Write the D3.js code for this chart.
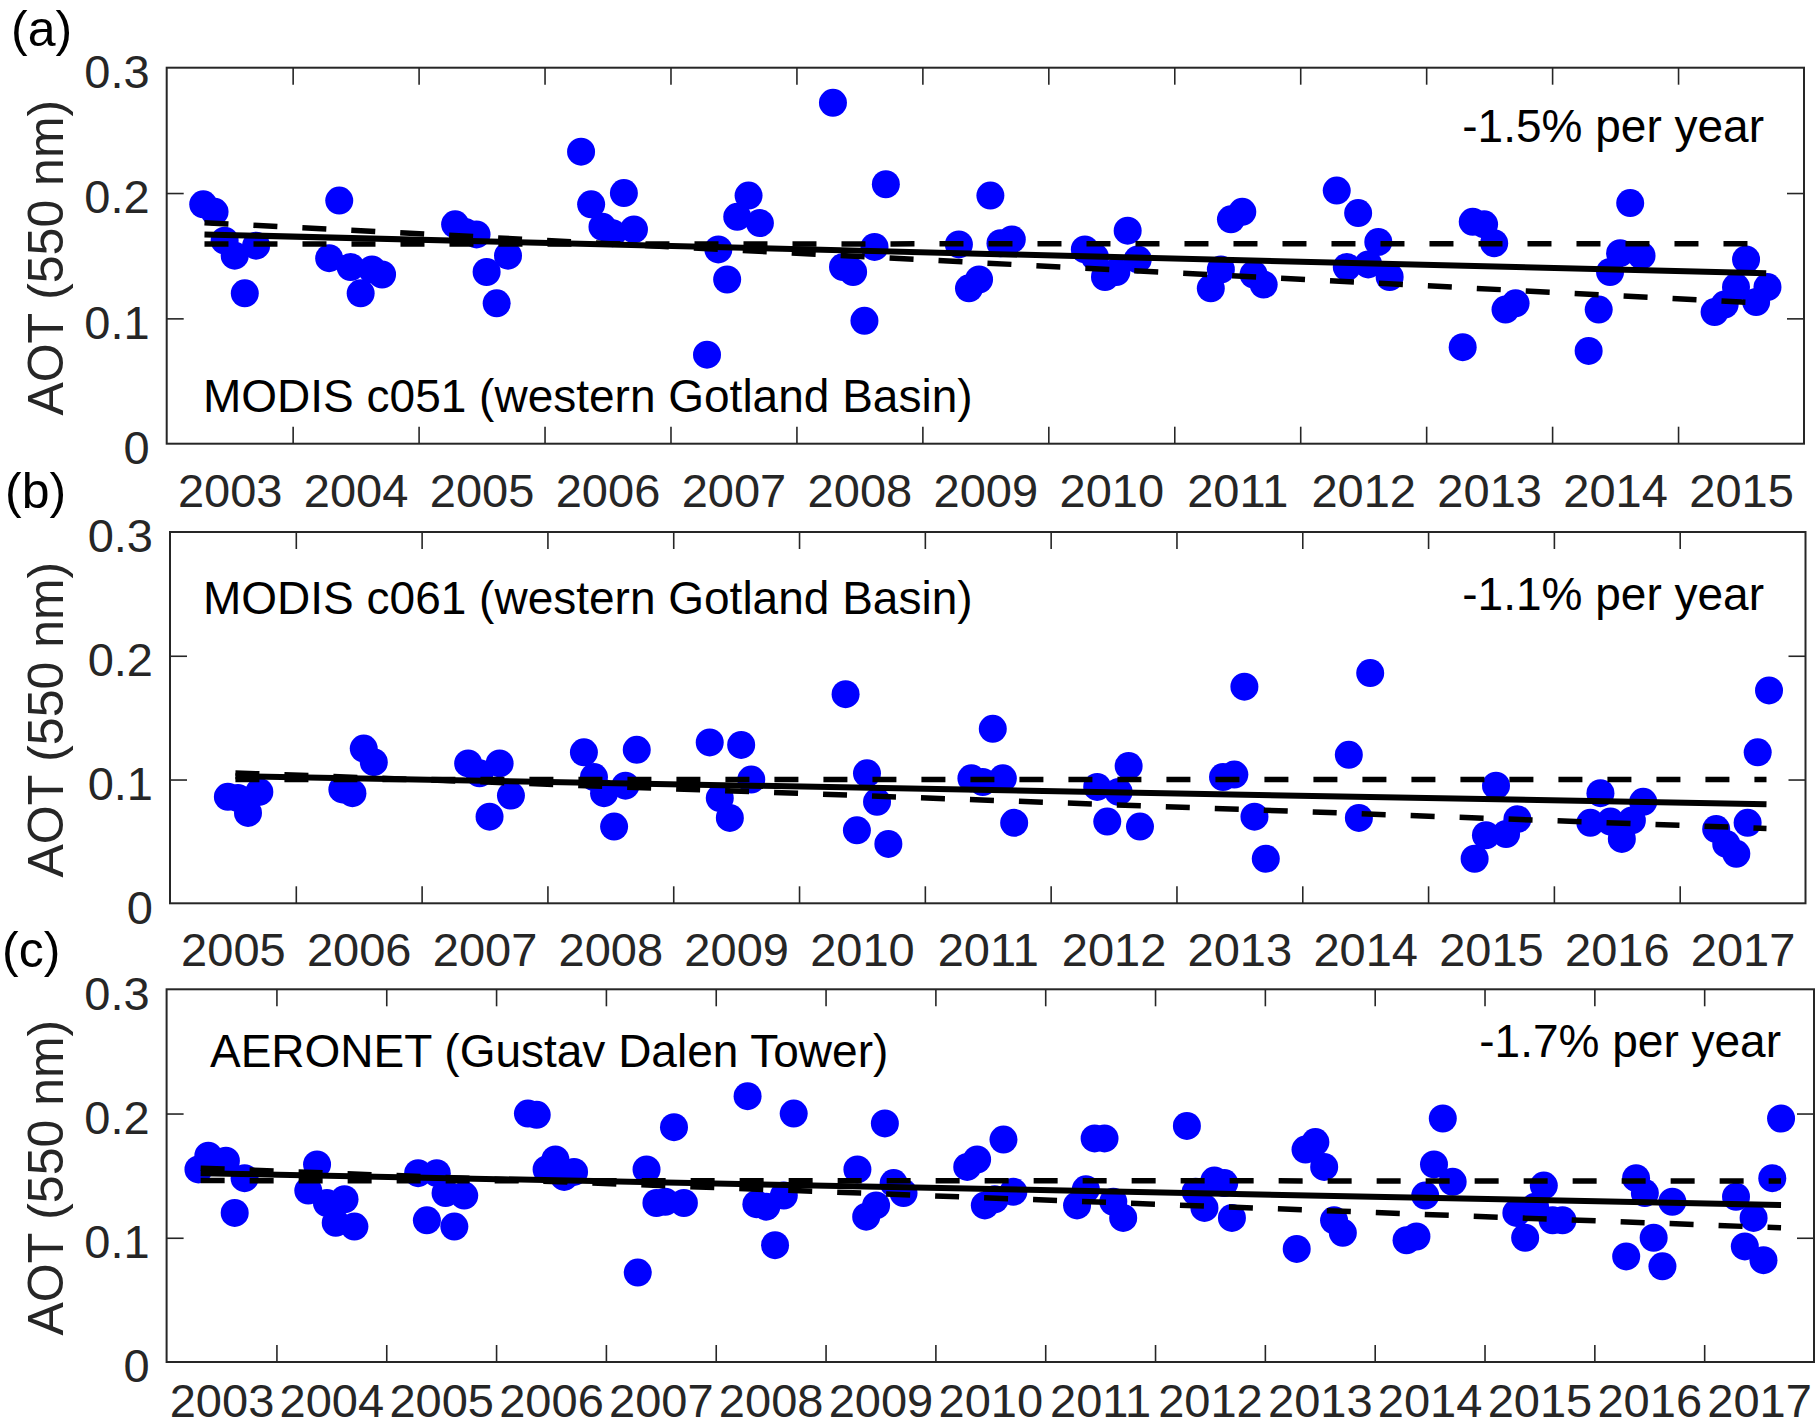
<!DOCTYPE html>
<html lang="en">
<head>
<meta charset="UTF-8">
<title>AOT (550 nm) trends</title>
<script src="https://d3js.org/d3.v7.min.js"></script>
<style>
  body { margin: 0; background: #fff; }
  svg { display: block; font-family: 'Liberation Sans', Arial, sans-serif; }
</style>
</head>
<body>
<svg id="chart" width="1820" height="1428"></svg>
<script>
// --- (a) MODIS c051, monthly means ---
const datesA = [
  2003.29, 2003.38, 2003.46, 2003.54, 2003.62, 2003.71,
  2004.29, 2004.37, 2004.46, 2004.54, 2004.63, 2004.71,
  2005.29, 2005.37, 2005.46, 2005.54, 2005.62, 2005.71,
  2006.29, 2006.37, 2006.46, 2006.54, 2006.63, 2006.71,
  2007.29, 2007.38, 2007.45, 2007.53, 2007.62, 2007.71,
  2008.29, 2008.37, 2008.45, 2008.54, 2008.62, 2008.71,
  2009.29, 2009.37, 2009.45, 2009.54, 2009.62, 2009.71,
  2010.29, 2010.37, 2010.45, 2010.54, 2010.63, 2010.71,
  2011.29, 2011.37, 2011.45, 2011.54, 2011.63, 2011.71,
  2012.29, 2012.37, 2012.46, 2012.54, 2012.62, 2012.71,
  2013.29, 2013.37, 2013.46, 2013.54, 2013.63, 2013.71,
  2014.29, 2014.37, 2014.46, 2014.54, 2014.62, 2014.71,
  2015.29, 2015.37, 2015.46, 2015.54, 2015.62, 2015.71
];
const aotA = [
  0.191, 0.185, 0.162, 0.150, 0.120, 0.158,
  0.148, 0.194, 0.141, 0.120, 0.139, 0.135,
  0.175, 0.169, 0.167, 0.137, 0.112, 0.150,
  0.233, 0.191, 0.173, 0.168, 0.200, 0.171,
  0.071, 0.155, 0.131, 0.181, 0.198, 0.176,
  0.272, 0.141, 0.137, 0.098, 0.157, 0.207,
  0.159, 0.124, 0.131, 0.198, 0.160, 0.163,
  0.155, 0.149, 0.133, 0.137, 0.170, 0.147,
  0.124, 0.139, 0.179, 0.185, 0.135, 0.127,
  0.202, 0.141, 0.184, 0.143, 0.161, 0.133,
  0.077, 0.177, 0.175, 0.160, 0.107, 0.112,
  0.074, 0.107, 0.137, 0.152, 0.192, 0.150,
  0.105, 0.111, 0.125, 0.147, 0.113, 0.125
];

// --- (b) MODIS c061 ---
const datesB = [
  2005.46, 2005.54, 2005.62, 2005.71,
  2006.37, 2006.45, 2006.54, 2006.62,
  2007.37, 2007.46, 2007.54, 2007.62, 2007.71,
  2008.29, 2008.37, 2008.45, 2008.53, 2008.62, 2008.71,
  2009.29, 2009.37, 2009.45, 2009.54, 2009.62,
  2010.37, 2010.46, 2010.54, 2010.62, 2010.71,
  2011.37, 2011.46, 2011.54, 2011.62, 2011.71,
  2012.37, 2012.45, 2012.54, 2012.62, 2012.71,
  2013.37, 2013.46, 2013.54, 2013.62, 2013.71,
  2014.37, 2014.45, 2014.54,
  2015.37, 2015.46, 2015.54, 2015.62, 2015.71,
  2016.29, 2016.37, 2016.45, 2016.54, 2016.62, 2016.71,
  2017.29, 2017.37, 2017.45, 2017.54, 2017.62, 2017.71
];
const aotB = [
  0.086, 0.085, 0.073, 0.090,
  0.092, 0.089, 0.125, 0.114,
  0.113, 0.105, 0.070, 0.113, 0.087,
  0.122, 0.102, 0.089, 0.062, 0.095, 0.124,
  0.130, 0.085, 0.069, 0.128, 0.100,
  0.169, 0.059, 0.105, 0.082, 0.048,
  0.101, 0.098, 0.141, 0.101, 0.065,
  0.094, 0.066, 0.090, 0.111, 0.062,
  0.102, 0.104, 0.175, 0.070, 0.036,
  0.120, 0.069, 0.186,
  0.036, 0.055, 0.095, 0.056, 0.068,
  0.065, 0.089, 0.066, 0.052, 0.067, 0.082,
  0.060, 0.048, 0.040, 0.065, 0.122, 0.172
];

// --- (c) AERONET Gustav Dalen Tower ---
const datesC = [
  2003.29, 2003.38, 2003.54, 2003.62, 2003.71,
  2004.29, 2004.37, 2004.46, 2004.54, 2004.62, 2004.71,
  2005.29, 2005.37, 2005.46, 2005.54, 2005.62, 2005.71,
  2006.29, 2006.37, 2006.46, 2006.54, 2006.62, 2006.71,
  2007.29, 2007.37, 2007.46, 2007.54, 2007.62, 2007.71,
  2008.29, 2008.37, 2008.46, 2008.54, 2008.62, 2008.71,
  2009.29, 2009.37, 2009.46, 2009.54, 2009.62, 2009.71,
  2010.29, 2010.38, 2010.45, 2010.54, 2010.62, 2010.71,
  2011.29, 2011.37, 2011.45, 2011.54, 2011.62, 2011.71,
  2012.29, 2012.37, 2012.45, 2012.54, 2012.63, 2012.70,
  2013.29, 2013.37, 2013.46, 2013.54, 2013.63, 2013.71,
  2014.29, 2014.38, 2014.46, 2014.54, 2014.62, 2014.71,
  2015.29, 2015.37, 2015.46, 2015.54, 2015.62, 2015.71,
  2016.29, 2016.38, 2016.46, 2016.54, 2016.62, 2016.71,
  2017.29, 2017.37, 2017.45, 2017.54, 2017.62, 2017.70
];
const aotC = [
  0.155, 0.166, 0.162, 0.120, 0.148,
  0.138, 0.159, 0.128, 0.112, 0.131, 0.109,
  0.152, 0.114, 0.152, 0.136, 0.109, 0.134,
  0.200, 0.199, 0.155, 0.163, 0.149, 0.153,
  0.072, 0.155, 0.128, 0.129, 0.189, 0.128,
  0.214, 0.127, 0.125, 0.094, 0.134, 0.200,
  0.155, 0.117, 0.126, 0.192, 0.144, 0.136,
  0.157, 0.163, 0.126, 0.131, 0.179, 0.137,
  0.126, 0.139, 0.180, 0.180, 0.129, 0.116,
  0.190, 0.137, 0.124, 0.146, 0.144, 0.116,
  0.091, 0.171, 0.177, 0.157, 0.114, 0.104,
  0.098, 0.101, 0.134, 0.159, 0.196, 0.145,
  0.120, 0.100, 0.125, 0.142, 0.114, 0.114,
  0.085, 0.148, 0.136, 0.100, 0.077, 0.129,
  0.133, 0.093, 0.116, 0.082, 0.148, 0.196
];

// --- trend lines: [start, end] ---
const trendDatesA = [2003.30, 2015.70];
const fitA = [0.167, 0.136];
const flatA = [0.1593, 0.1596];
const steepA = [0.1763, 0.112];

const trendDatesB = [2005.52, 2017.69];
const fitB = [0.1027, 0.080];
const flatB = [0.100, 0.100];
const steepB = [0.1053, 0.0605];

const trendDatesC = [2003.31, 2017.70];
const fitC = [0.152, 0.1264];
const flatC = [0.146, 0.1457];
const steepC = [0.156, 0.108];

// --- labels ---
const panelTags = ["(a)", "(b)", "(c)"];
const sourceNames = ["MODIS c051 (western Gotland Basin)", "MODIS c061 (western Gotland Basin)", "AERONET (Gustav Dalen Tower)"];
const trendTexts = ["-1.5% per year", "-1.1% per year", "-1.7% per year"];
const yTicks = [0, 0.1, 0.2, 0.3];
const yearRanges = [[2003, 2016], [2005, 2018], [2003, 2018]];
const yLabel = "AOT (550 nm)";

// --- layout (pixels) ---
const panels = [
  { left: 166.7, right: 1804, top: 67.7, bottom: 443.7, tagX: 11, tagY: 46, labelPad: 30,
    nameX: 203, nameY: 412, rateX: 1764, rateY: 142,
    dates: datesA, aot: aotA, tDates: trendDatesA, fit: fitA, flat: flatA, steep: steepA },
  { left: 170, right: 1805.5, top: 532, bottom: 903.3, tagX: 5, tagY: 508, labelPad: 29,
    nameX: 203, nameY: 614, rateX: 1764, rateY: 610,
    dates: datesB, aot: aotB, tDates: trendDatesB, fit: fitB, flat: flatB, steep: steepB },
  { left: 166.6, right: 1814, top: 989.3, bottom: 1362, tagX: 2, tagY: 967, labelPad: 22,
    nameX: 210, nameY: 1067, rateX: 1781, rateY: 1057,
    dates: datesC, aot: aotC, tDates: trendDatesC, fit: fitC, flat: flatC, steep: steepC }
];

const axisColor = "#262626";
const svg = d3.select("#chart");

panels.forEach((p, i) => {
  const [y0, y1] = yearRanges[i];
  const x = d3.scaleLinear().domain([y0, y1]).range([p.left, p.right]);
  const y = d3.scaleLinear().domain([0, 0.3]).range([p.bottom, p.top]);
  const g = svg.append("g");

  const innerYears = d3.range(y0 + 1, y1);
  const midYears = d3.range(y0, y1).map(d => d + 0.5);

  // tick marks pointing inward on all four sides
  const tickLen = 17;
  const marks = [
    [d3.axisBottom(x).tickValues(innerYears).tickSize(-tickLen), `translate(0,${p.bottom})`],
    [d3.axisTop(x).tickValues(innerYears).tickSize(-tickLen), `translate(0,${p.top})`],
    [d3.axisLeft(y).tickValues([0.1, 0.2]).tickSize(-tickLen), `translate(${p.left},0)`],
    [d3.axisRight(y).tickValues([0.1, 0.2]).tickSize(-tickLen), `translate(${p.right},0)`]
  ];
  marks.forEach(([ax, tr]) => {
    const a = g.append("g").attr("transform", tr).call(ax.tickFormat(""));
    a.select(".domain").remove();
    a.selectAll("line").attr("stroke", axisColor).attr("stroke-width", 1.6);
  });

  // year labels centred on each year
  const xl = g.append("g").attr("transform", `translate(0,${p.bottom})`)
    .call(d3.axisBottom(x).tickValues(midYears).tickSize(0).tickPadding(p.labelPad)
      .tickFormat(d => String(Math.floor(d))));
  xl.select(".domain").remove();
  xl.selectAll("text").attr("font-size", 47).attr("font-family", null).attr("fill", axisColor);

  const yl = g.append("g").attr("transform", `translate(${p.left},0)`)
    .call(d3.axisLeft(y).tickValues(yTicks).tickSize(0).tickPadding(17).tickFormat(d3.format("~g")));
  yl.select(".domain").remove();
  yl.selectAll("text").attr("font-size", 47).attr("font-family", null).attr("fill", axisColor).attr("dy", "0.42em");

  // axis title
  g.append("text")
    .attr("transform", `translate(63,${(p.top + p.bottom) / 2 + 2}) rotate(-90)`)
    .attr("text-anchor", "middle")
    .attr("font-size", 50)
    .attr("fill", axisColor)
    .text(yLabel);

  // dots
  const clipId = "clip" + i;
  g.append("clipPath").attr("id", clipId).append("rect")
    .attr("x", p.left).attr("y", p.top).attr("width", p.right - p.left).attr("height", p.bottom - p.top);
  g.append("g").attr("clip-path", `url(#${clipId})`)
    .selectAll("circle")
    .data(p.dates.map((d, k) => [d, p.aot[k]]))
    .join("circle")
    .attr("cx", d => x(d[0]))
    .attr("cy", d => y(d[1]))
    .attr("r", 14)
    .attr("fill", "#0000ff");

  // trend + bounds
  const line = d3.line().x(d => x(d[0])).y(d => y(d[1]));
  const pts = arr => p.tDates.map((d, k) => [d, arr[k]]);
  g.append("path").attr("d", line(pts(p.fit)))
    .attr("stroke", "#000").attr("stroke-width", 6).attr("fill", "none");
  [p.flat, p.steep].forEach(arr => {
    g.append("path").attr("d", line(pts(arr)))
      .attr("stroke", "#000").attr("stroke-width", 5.5).attr("fill", "none")
      .attr("stroke-dasharray", "24 25");
  });

  // frame
  g.append("rect")
    .attr("x", p.left).attr("y", p.top)
    .attr("width", p.right - p.left).attr("height", p.bottom - p.top)
    .attr("fill", "none").attr("stroke", axisColor).attr("stroke-width", 2);

  // annotations
  g.append("text").attr("x", p.nameX).attr("y", p.nameY)
    .attr("font-size", 46).attr("fill", "#000").text(sourceNames[i]);
  g.append("text").attr("x", p.rateX).attr("y", p.rateY)
    .attr("text-anchor", "end").attr("font-size", 46).attr("fill", "#000").text(trendTexts[i]);
  g.append("text").attr("x", p.tagX).attr("y", p.tagY)
    .attr("font-size", 50).attr("fill", "#000").text(panelTags[i]);
});
</script>
</body>
</html>
